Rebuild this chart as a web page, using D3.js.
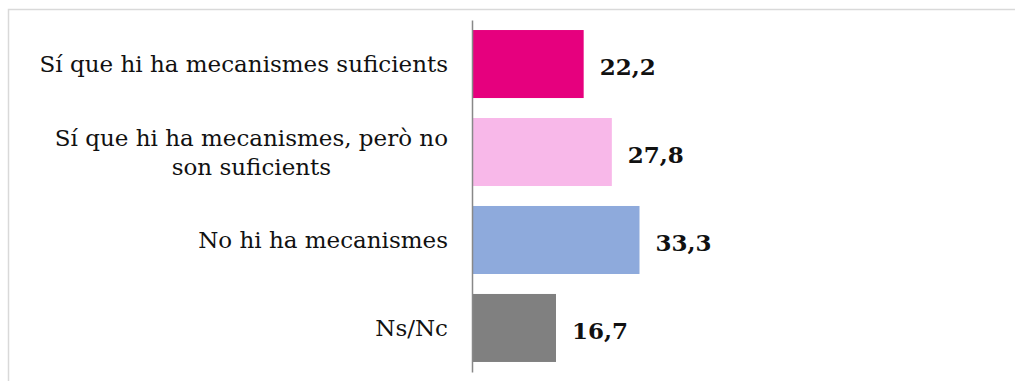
<!DOCTYPE html>
<html>
<head>
<meta charset="utf-8">
<script src="https://cdn.jsdelivr.net/npm/d3@7"></script>
<style>
  body { margin: 0; background: #fff; }
  svg { display: block; }
</style>
</head>
<body>
<div id="chart"></div>
<script>
const categories = [
    ["Sí que hi ha mecanismes suficients"],
    ["Sí que hi ha mecanismes, però no", "son suficients"],
    ["No hi ha mecanismes"],
    ["Ns/Nc"]
];
const values = [22.2, 27.8, 33.3, 16.7];
const valueLabels = ["22,2", "27,8", "33,3", "16,7"];
const colors = ["#e6007e", "#f8b8e9", "#8eaadc", "#808080"];

const width = 1015;
const height = 381;
const margin = { top: 20, right: 40, bottom: 9, left: 472 };
const fontFamily = "Georgia, 'DejaVu Serif', serif";

const svg = d3.select("#chart")
    .append("svg")
    .attr("width", width)
    .attr("height", height);

// outer frame, cut off at right and bottom like the source
svg.append("rect")
    .attr("x", 8.5).attr("y", 9.5)
    .attr("width", 1030).attr("height", 400)
    .attr("fill", "none").attr("stroke", "#d9d9d9").attr("stroke-width", 1.5);

const idx = d3.range(values.length);

const y = d3.scaleBand()
    .domain(idx)
    .range([margin.top, height - margin.bottom])
    .paddingInner(0.227)
    .paddingOuter(0.114);

// 5.03 px per unit
const x = d3.scaleLinear()
    .domain([0, 100])
    .range([margin.left, margin.left + 503]);

svg.selectAll("rect.bar")
    .data(idx)
    .join("rect")
    .attr("class", "bar")
    .attr("x", x(0))
    .attr("y", i => y(i))
    .attr("width", i => x(values[i]) - x(0))
    .attr("height", y.bandwidth())
    .attr("fill", i => colors[i]);

// vertical axis, no ticks
const gY = svg.append("g").attr("transform", `translate(${x(0)},0)`);
gY.call(d3.axisLeft(y).tickSize(0).tickFormat(""));
gY.select(".domain").attr("stroke", "#888").attr("stroke-width", 1.5);

// category labels: block right-aligned, wrapped lines centred on each other
const labelRight = 448;
const lineH = 29;
const catG = svg.append("g")
    .attr("font-family", fontFamily)
    .attr("font-size", 23)
    .attr("fill", "#111");

idx.forEach(i => {
    const lines = categories[i];
    const cy = y(i) + y.bandwidth() / 2;
    const y0 = cy - (lines.length - 1) * lineH / 2 + 8;
    const texts = lines.map((l, k) => catG.append("text")
        .attr("y", y0 + k * lineH)
        .attr("text-anchor", "middle")
        .text(l));
    const w = d3.max(texts, t => t.node().getComputedTextLength());
    texts.forEach(t => t.attr("x", labelRight - w / 2));
});

// value labels
svg.append("g")
    .attr("font-family", fontFamily)
    .attr("font-size", 23)
    .attr("font-weight", "bold")
    .attr("fill", "#111")
    .selectAll("text")
    .data(idx)
    .join("text")
    .attr("x", i => x(values[i]) + 16)
    .attr("y", i => y(i) + y.bandwidth() / 2 + 11)
    .text(i => valueLabels[i]);
</script>
</body>
</html>
